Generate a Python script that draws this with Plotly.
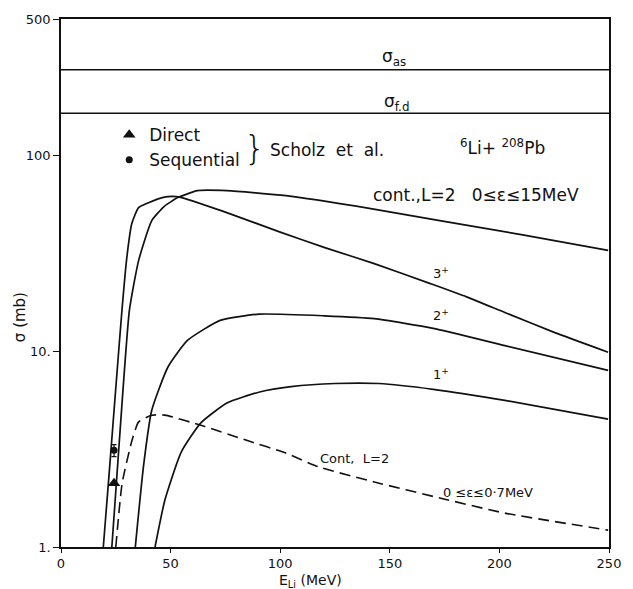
import plotly.graph_objects as go
import numpy as np

# ---- data ----
x_3p = [19.3, 22.0, 25.0, 27.8, 30.0, 32.3, 35.4, 39.9, 44.0, 48.8, 54.2, 75.0, 100.0, 120.0, 142.9, 168.5, 185.0, 202.5, 225.0, 249.6]
y_3p = [1.0, 2.4, 6.5, 16.2, 30.0, 45.0, 54.3, 57.5, 60.0, 61.8, 61.5, 51.5, 40.7, 34.0, 28.1, 22.2, 19.0, 15.8, 12.5, 9.9]

x_c15 = [23.2, 27.0, 31.2, 35.4, 41.4, 47.0, 53.3, 62.3, 75.7, 102.6, 140.0, 172.8, 210.0, 249.6]
y_c15 = [1.0, 4.0, 16.2, 29.1, 46.6, 55.0, 61.1, 66.3, 66.3, 62.5, 54.0, 46.6, 39.5, 32.8]

x_2p = [33.9, 37.6, 41.4, 48.8, 57.8, 72.6, 90.5, 120.0, 142.9, 169.8, 202.5, 249.6]
y_2p = [1.0, 2.57, 5.0, 8.32, 11.4, 14.4, 15.5, 15.2, 14.7, 13.1, 10.7, 8.0]

x_1p = [42.9, 47.4, 54.8, 63.7, 75.7, 90.6, 105.0, 125.0, 145.0, 169.8, 202.5, 249.6]
y_1p = [1.0, 1.74, 3.05, 4.3, 5.45, 6.2, 6.6, 6.85, 6.85, 6.4, 5.62, 4.5]

x_c07 = [25.0, 27.9, 32.4, 35.4, 41.4, 47.4, 65.3, 84.7, 102.6, 117.4, 142.9, 172.8, 202.5, 249.6]
y_c07 = [1.0, 2.12, 3.51, 4.36, 4.72, 4.72, 4.14, 3.51, 3.02, 2.57, 2.15, 1.78, 1.49, 1.22]

sigma_as = 275.0
sigma_fd = 165.0

direct_x, direct_y = [24.2], [2.12]
seq_x, seq_y, seq_err = [24.2], [3.12], [0.22]

x_ticks = [0, 50, 100, 150, 200, 250]
y_ticks = [1, 10, 100, 500]
y_ticktext = ["1.", "10.", "100", "500"]

FONT = "DejaVu Sans"
INK = "#111111"

fig = go.Figure()

line = dict(color=INK, width=1.7, shape="spline", smoothing=0.5)
for xs, ys in [(x_3p, y_3p), (x_c15, y_c15), (x_2p, y_2p), (x_1p, y_1p)]:
    fig.add_trace(go.Scatter(x=xs, y=ys, mode="lines", line=line, showlegend=False, hoverinfo="skip"))
fig.add_trace(go.Scatter(x=x_c07, y=y_c07, mode="lines",
                         line=dict(color=INK, width=1.6, dash="11px,6px", shape="spline", smoothing=0.5),
                         showlegend=False))
for v in [sigma_as, sigma_fd]:
    fig.add_trace(go.Scatter(x=[0, 250], y=[v, v], mode="lines", line=dict(color=INK, width=1.5),
                             showlegend=False))

fig.add_trace(go.Scatter(x=direct_x, y=direct_y, mode="markers", name="Direct",
                         marker=dict(symbol="triangle-up", size=11, color=INK)))
fig.add_trace(go.Scatter(x=seq_x, y=seq_y, mode="markers", name="Sequential",
                         marker=dict(symbol="circle", size=7, color=INK),
                         error_y=dict(type="data", array=seq_err, color=INK, thickness=1.2, width=2.5)))

ann = []
def t(x, y, s, size=16, xanchor="center", ref="data", **kw):
    d = dict(x=x, y=y, text=s, showarrow=False, font=dict(family=FONT, size=size, color=INK),
             xanchor=xanchor, yanchor="middle")
    if ref == "paper":
        d.update(xref="paper", yref="paper")
    d.update(kw)
    ann.append(d)

t(152.0, 2.50, "σ<sub>as</sub>", 17)
t(153.0, 2.27, "σ<sub>f.d</sub>", 17)
t(88.6, 2.04, "}", 34, font=dict(family="DejaVu Sans", size=34, color=INK, weight=100))
t(94.5, 2.03, "Scholz  et  al.", 17, xanchor="left")
t(201.5, 2.046, "<sup>6</sup>Li+ <sup>208</sup>Pb", 17)
t(189.1, 1.80, "cont.,L=2   0≤ε≤15MeV", 17)
t(173.5, 1.40, "3<sup>+</sup>", 13)
t(173.5, 1.185, "2<sup>+</sup>", 13)
t(173.5, 0.885, "1<sup>+</sup>", 13)
t(134.0, 0.454, "Cont,  L=2", 13)
t(195.0, 0.281, "0 ≤ε≤0·7MeV", 13)
t(-0.076, 0.436, "σ (mb)", 15, ref="paper", textangle=-90)
t(0.455, -0.064, "E<sub>Li</sub> (MeV)", 14, ref="paper")

fig.update_layout(
    width=633, height=589,
    margin=dict(l=61, r=14, t=18, b=42),
    paper_bgcolor="white", plot_bgcolor="white",
    font=dict(family=FONT, color=INK),
    annotations=ann,
    showlegend=True,
    legend=dict(x=0.088, y=0.814, xanchor="left", yanchor="top", bgcolor="rgba(0,0,0,0)",
                font=dict(family=FONT, size=17, color=INK), tracegroupgap=0, itemwidth=30),
    xaxis=dict(range=[0, 250], tickvals=x_ticks, showgrid=False, zeroline=False,
               showline=True, linecolor=INK, linewidth=1.5, mirror=True,
               ticks="outside", ticklen=4, tickcolor=INK, tickfont=dict(size=13, family=FONT)),
    yaxis=dict(type="log", range=[0, np.log10(500)], tickvals=y_ticks, ticktext=y_ticktext,
               showgrid=False, zeroline=False, showline=True, linecolor=INK, linewidth=1.5, mirror=True,
               ticks="outside", ticklen=6, tickcolor=INK, tickfont=dict(size=13, family=FONT)),
)

fig.write_html("out.html")
